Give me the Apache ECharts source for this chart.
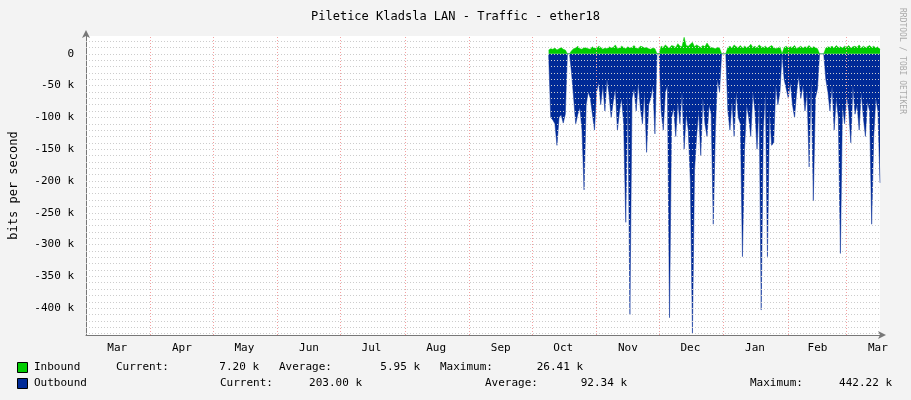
<!DOCTYPE html>
<html><head><meta charset="utf-8">
<script src="https://cdn.jsdelivr.net/npm/echarts@6/dist/echarts.min.js"></script>
<style>html,body{margin:0;padding:0;background:#F3F3F3}#c{width:911px;height:400px}</style>
</head><body><div id="c"></div>
<script>
// day offsets from Mar 1
const startDay = 222;
const monthBounds = [31,61,92,122,153,184,214,245,275,306,337,365];
const monthLabels = ['Mar','Apr','May','Jun','Jul','Aug','Sep','Oct','Nov','Dec','Jan','Feb','Mar'];
const monthLabelDays = [15,46,76,107,137,168,199,229,260,290,321,351,380];
const yTicks = [0,-50000,-100000,-150000,-200000,-250000,-300000,-350000,-400000];
const yTickLabels = ['0','-50 k','-100 k','-150 k','-200 k','-250 k','-300 k','-350 k','-400 k'];
// outbound bits/s (k), one per day from day 222
const outboundK = [
2,100,104,110,144,100,96,109,95,0,
0,30,70,110,95,85,120,214,80,60,
70,95,120,60,45,80,50,90,40,65,
100,75,55,120,90,70,110,265,60,410,
70,55,90,45,85,110,60,155,80,70,
50,126,0,0,90,120,60,50,415,100,
85,130,75,110,60,150,95,120,200,440,
184,130,90,160,70,110,130,80,95,268,
120,40,60,0,0,0,90,120,75,130,
60,100,110,319,150,80,100,130,60,90,
150,75,403,120,60,319,90,144,140,50,
80,60,0,40,55,70,45,80,100,60,
35,70,50,90,60,178,40,231,70,55,
0,0,0,40,60,90,50,120,70,100,
314,80,110,65,90,140,50,95,80,120,
60,100,130,75,90,268,130,70,90,203];
// inbound bits/s (k)
const inboundK = [
6,8,7,9,6,8,10,7,6,0,
0,5,8,9,12,8,7,10,9,8,
7,11,9,8,12,10,7,9,8,11,
9,10,14,8,9,12,10,8,11,9,
10,13,9,8,12,11,9,10,8,7,
9,8,0,0,12,10,14,11,9,13,
12,10,16,12,11,26,13,12,15,18,
11,14,12,10,13,11,17,12,10,9,
8,10,9,0,0,0,10,12,9,14,
11,10,13,9,12,10,11,15,10,12,
9,14,11,10,12,9,11,13,10,8,
9,11,0,10,12,9,11,10,13,8,
10,12,9,11,10,13,9,11,10,8,
0,0,0,9,11,10,12,9,13,10,
11,9,12,10,13,9,11,12,10,14,
9,12,10,11,13,10,12,9,11,7];
const outData = outboundK.map((v,i)=>[startDay+i, -v*1000]);
const inData = inboundK.map((v,i)=>[startDay+i, v*1000]);
const minorY = [];
for (let v=20000; v>=-440000; v-=10000) minorY.push(v);

const mono = 'DejaVu Sans Mono';
const chart = echarts.init(document.getElementById('c'));
const T = (x,y,t,extra)=>Object.assign({type:'text',left:x,top:y,style:{text:t,font:'11px '+mono,fill:'#000'}},extra||{});
chart.setOption({
  backgroundColor:'#F3F3F3',
  animation:false,
  title:{text:'Piletice Kladsla LAN - Traffic - ether18',left:'center',top:6,
    textStyle:{fontFamily:mono,fontSize:12,fontWeight:'normal',color:'#000'}},
  grid:{left:82,right:31,top:36,bottom:65,show:true,backgroundColor:'#fff',borderWidth:0},
  xAxis:{type:'value',min:0,max:381,
    axisLine:{onZero:false,lineStyle:{color:'#777'},symbol:['none','arrow'],symbolSize:[6,8],symbolOffset:[0,6]},
    axisTick:{show:false},splitLine:{show:false},
    axisLabel:{customValues:monthLabelDays,formatter:v=>monthLabels[monthLabelDays.indexOf(v)],
      fontFamily:mono,fontSize:11,color:'#000',margin:8}},
  yAxis:{type:'value',min:-442220,max:28000,
    axisLine:{show:true,onZero:false,lineStyle:{color:'#777'},symbol:['none','arrow'],symbolSize:[6,8],symbolOffset:[0,6]},
    axisTick:{show:false},splitLine:{show:false},
    axisLabel:{customValues:yTicks,formatter:v=>yTickLabels[yTicks.indexOf(v)],
      fontFamily:mono,fontSize:11,color:'#000',margin:12},
    name:'bits per second',nameLocation:'middle',nameGap:66,
    nameTextStyle:{fontFamily:mono,fontSize:12,color:'#000'}},
  series:[
    {type:'line',data:[],silent:true,
      markLine:{silent:true,symbol:'none',label:{show:false},
        lineStyle:{color:'#ccc',type:[1,2],width:1},
        data:minorY.map(v=>({yAxis:v}))}},
    {type:'line',data:[],silent:true,
      markLine:{silent:true,symbol:'none',label:{show:false},
        lineStyle:{color:'#f3a0a0',type:[1,2],width:1},
        data:monthBounds.map(v=>({xAxis:v}))}},
    {name:'Outbound',type:'line',data:outData,symbol:'none',lineStyle:{width:0.5,color:'#002A97'},
      areaStyle:{color:'#002A97',opacity:1}},
    {name:'Inbound',type:'line',data:inData,symbol:'none',lineStyle:{width:0.5,color:'#00CC00'},
      areaStyle:{color:'#00CC00',opacity:1}}
  ],
  graphic:[
    {type:'rect',left:17,top:362,shape:{width:10,height:10},style:{fill:'#00CC00',stroke:'#000',lineWidth:1}},
    {type:'rect',left:17,top:378,shape:{width:10,height:10},style:{fill:'#002A97',stroke:'#000',lineWidth:1}},
    T(34,362,'Inbound'),T(116,362,'Current:'),T(259,362,'7.20 k',{left:null,right:911-259}),
    T(279,362,'Average:'),T(420,362,'5.95 k',{left:null,right:911-420}),
    T(440,362,'Maximum:'),T(583,362,'26.41 k',{left:null,right:911-583}),
    T(34,378,'Outbound'),T(220,378,'Current:'),T(362,378,'203.00 k',{left:null,right:911-362}),
    T(485,378,'Average:'),T(627,378,'92.34 k',{left:null,right:911-627}),
    T(750,378,'Maximum:'),T(892,378,'442.22 k',{left:null,right:911-892}),
    {type:'text',left:898,top:8,rotation:-Math.PI/2,originX:0,originY:0,
      style:{text:'RRDTOOL / TOBI OETIKER',font:'8px '+mono,fill:'#aaa'}, x:898,y:8}
  ]
});
</script></body></html>
